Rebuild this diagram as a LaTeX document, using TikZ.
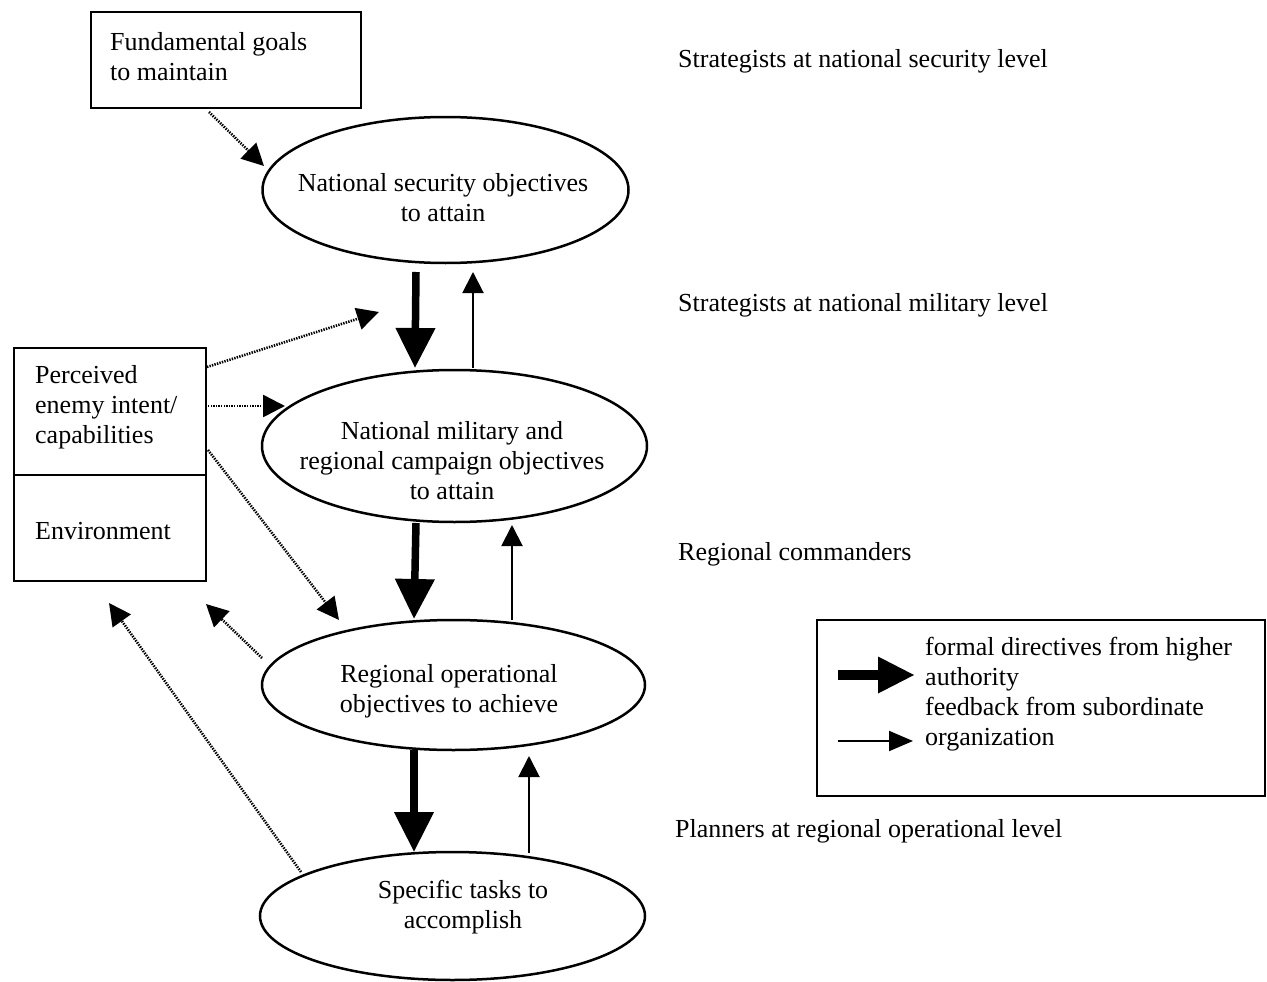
\documentclass[tikz,border=0pt]{standalone}
\usepackage{fontspec}
\setmainfont{Liberation Serif}
\usetikzlibrary{arrows.meta,shapes.geometric}
\begin{document}
\begin{tikzpicture}[x=1pt,y=-1pt,
  txt/.style={font=\fontsize{26}{30}\selectfont, inner sep=0pt},
  boxn/.style={draw, line width=2pt, inner sep=0pt},
  ell/.style={draw, ellipse, line width=2.5pt, inner sep=0pt},
  thickarr/.style={line width=7.5pt, -{Triangle[length=40pt,width=38pt]}},
  thinarr/.style={line width=2pt, -{Triangle[length=21pt,width=21pt]}},
  dotarr/.style={line width=2.6pt, dash pattern=on 1.4pt off 1.2pt, -{Triangle[length=22pt,width=22pt]}}]
\useasboundingbox (0,0) rectangle (1267,982);

% boxes
\node[boxn, minimum width=270pt, minimum height=96pt] (fg) at (226,60) {};
\node[txt, anchor=west, align=left] (fgt) at (110,57) {Fundamental goals\\to maintain};

\node[boxn, minimum width=192pt, minimum height=233pt] (lb) at (110,464.5) {};
\coordinate (div) at (0,475);
\draw[line width=2pt] (lb.west |- div) -- (lb.east |- div);
\node[txt, anchor=west, align=left] (lbt) at (35,407) {Perceived\\enemy intent/\\capabilities};
\node[txt, anchor=west] (envt) at (35,531) {Environment};

% ellipses
\node[ell, minimum width=366pt, minimum height=146pt] (e1) at (445.5,190) {};
\node[txt, align=center] (e1t) at (443,198) {National security objectives\\to attain};
\node[ell, minimum width=385pt, minimum height=152pt] (e2) at (454.5,446) {};
\node[txt, align=center] (e2t) at (452,461) {National military and\\regional campaign objectives\\to attain};
\node[ell, minimum width=383pt, minimum height=130pt] (e3) at (453.5,685) {};
\node[txt, align=center] (e3t) at (449,691) {Regional operational\\objectives to achieve};
\node[ell, minimum width=385pt, minimum height=128pt] (e4) at (452.5,916) {};
\node[txt, align=center] (e4t) at (463,907) {Specific tasks to\\accomplish};

% level labels
\node[txt, anchor=west] (l1) at (678,61) {Strategists at national security level};
\node[txt, anchor=west] (l2) at (678,305) {Strategists at national military level};
\node[txt, anchor=west] (l3) at (678,554) {Regional commanders};
\node[txt, anchor=west] (l4) at (675,831) {Planners at regional operational level};

% vertical arrows
\coordinate (a1s) at (416,272); \coordinate (a1e) at (415,368);
\coordinate (b1s) at (473,368); \coordinate (b1e) at (473,272);
\coordinate (a2s) at (416,523); \coordinate (a2e) at (414,619);
\coordinate (b2s) at (512,620); \coordinate (b2e) at (512,525);
\coordinate (a3s) at (414,750); \coordinate (a3e) at (414,852);
\coordinate (b3s) at (529,853); \coordinate (b3e) at (529,756);
\draw[thickarr] (a1s) -- (a1e);
\draw[thinarr] (b1s) -- (b1e);
\draw[thickarr] (a2s) -- (a2e);
\draw[thinarr] (b2s) -- (b2e);
\draw[thickarr] (a3s) -- (a3e);
\draw[thinarr] (b3s) -- (b3e);

% dotted arrows
\coordinate (d0s) at (209,112); \coordinate (d0e) at (264,166);
\coordinate (d1s) at (207,367); \coordinate (d1e) at (379,312);
\coordinate (d2s) at (208,406); \coordinate (d2e) at (285,406);
\coordinate (d3s) at (208,450); \coordinate (d3e) at (339,620);
\coordinate (d4s) at (262,658); \coordinate (d4e) at (206,604);
\coordinate (d5s) at (301,872); \coordinate (d5e) at (109,603);
\draw[dotarr] (d0s) -- (d0e);
\draw[dotarr] (d1s) -- (d1e);
\draw[dotarr] (d2s) -- (d2e);
\draw[dotarr] (d3s) -- (d3e);
\draw[dotarr] (d4s) -- (d4e);
\draw[dotarr] (d5s) -- (d5e);

% legend
\node[boxn, minimum width=448pt, minimum height=176pt] (lg) at (1041,708) {};
\node[txt, anchor=west, align=left] (lgt) at (925,694.5) {formal directives from higher\\authority\\feedback from subordinate\\organization};
\coordinate (g1s) at (838,675); \coordinate (g1e) at (915,675);
\coordinate (g2s) at (838,741); \coordinate (g2e) at (913,741);
\draw[line width=10pt, -{Triangle[length=37pt,width=34pt]}] (g1s) -- (g1e);
\draw[line width=2pt, -{Triangle[length=24pt,width=20pt]}] (g2s) -- (g2e);
\end{tikzpicture}
\end{document}
